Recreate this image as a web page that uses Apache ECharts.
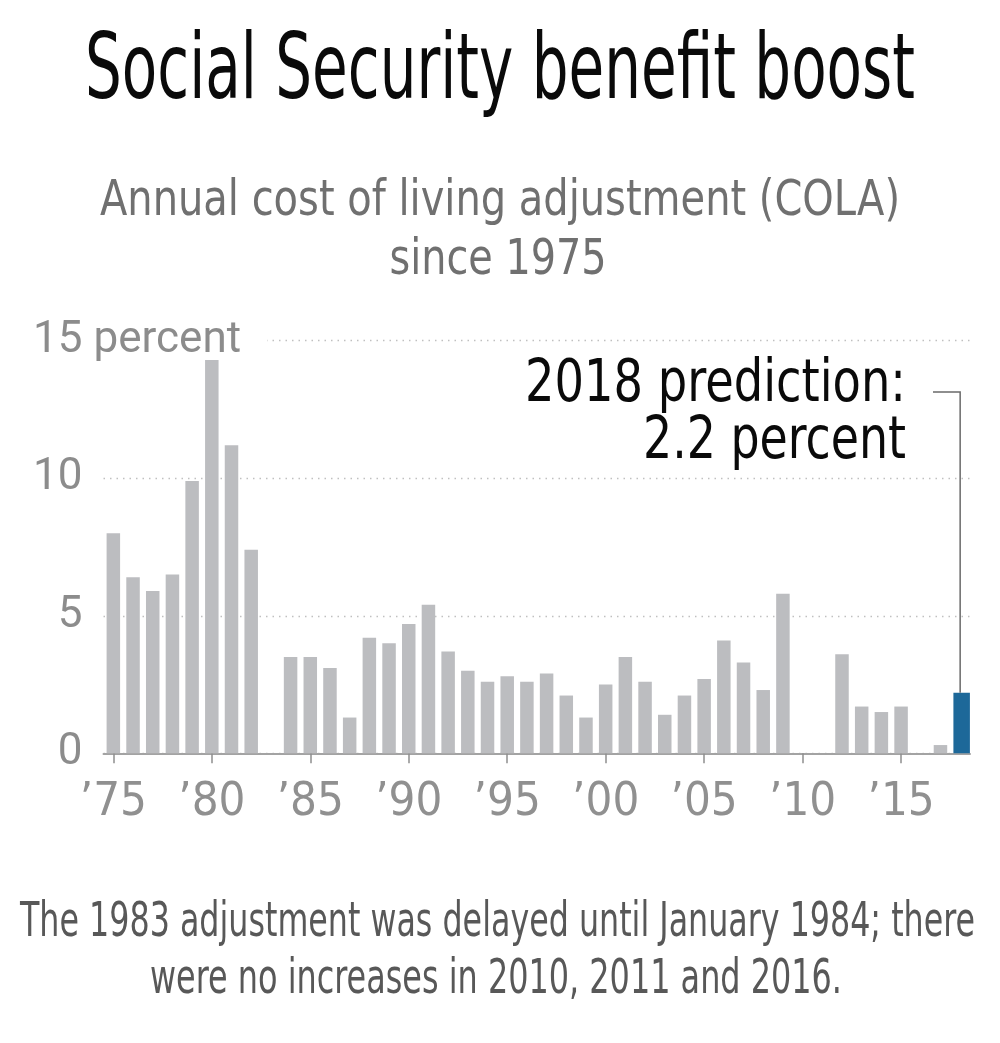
<!DOCTYPE html>
<html><head><meta charset="utf-8">
<script src="https://cdn.jsdelivr.net/npm/echarts@6/dist/echarts.min.js"></script>
<style>html,body{margin:0;padding:0;background:#fff}#c{width:1000px;height:1043px}</style>
</head><body><div id="c"></div>
<script>
// ---- data ----
const years = [];
for (let y = 1975; y <= 2018; y++) years.push(String(y));
const colaValues = [8.0,6.4,5.9,6.5,9.9,14.3,11.2,7.4,0,3.5,3.5,3.1,1.3,4.2,4.0,4.7,5.4,3.7,3.0,2.6,
  2.8,2.6,2.9,2.1,1.3,2.5,3.5,2.6,1.4,2.1,2.7,4.1,3.3,2.3,5.8,0,0,3.6,1.7,1.5,1.7,0,0.3,2.2];
const predictionYear = '2018';
const yTicks = [0, 5, 10, 15];
const labelEvery = 5;

const titleText = 'Social Security benefit boost';
const subtitleLines = ['Annual cost of living adjustment (COLA)', 'since 1975'];
const noteLines = ['The 1983 adjustment was delayed until January 1984; there', 'were no increases in 2010, 2011 and 2016.'];

// ---- derived series ----
const predIdx = years.indexOf(predictionYear);
const predValue = colaValues[predIdx];
const grayData = colaValues.map((v, i) => i === predIdx ? '-' : v);
const blueData = colaValues.map((v, i) => i === predIdx ? v : '-');
const annotLines = [predictionYear + ' prediction:', predValue + ' percent'];

const NARROW = '"Liberation Sans Narrow","DejaVu Sans Condensed","Roboto Condensed",sans-serif';
const measureCtx = document.createElement('canvas').getContext('2d');
function measure(text, size, family, weight) {
  measureCtx.font = (weight || 'normal') + ' ' + size + 'px ' + family;
  return measureCtx.measureText(text).width;
}
function fitText(text, opts) {
  const w = measure(text, opts.size, NARROW, opts.weight);
  return {
    type: 'text', x: opts.x, y: opts.y, scaleX: opts.width / w, z: 10,
    style: { text: text, fontSize: opts.size, fontFamily: NARROW, fontWeight: opts.weight || 'normal',
      fill: opts.color, align: opts.align, verticalAlign: 'middle' }
  };
}

const chart = echarts.init(document.getElementById('c'), null, { renderer: 'canvas' });
const gridLeft = 103.5, gridRight = 30, gridTop = 340.7, gridBottom = 289.7;

chart.setOption({
  backgroundColor: '#fff',
  animation: false,
  grid: { left: gridLeft, right: gridRight, top: gridTop, bottom: gridBottom, containLabel: false },
  xAxis: {
    type: 'category', data: years, boundaryGap: true,
    axisLine: { show: true, lineStyle: { color: '#a3a3a3', width: 2 } },
    axisTick: { show: true, alignWithLabel: true, length: 10, interval: (i) => i % labelEvery === 0,
      lineStyle: { color: '#8f8f8f', width: 1.5 } },
    axisLabel: { interval: (i) => i % labelEvery === 0, formatter: (v) => '\u2019' + v.slice(2),
      color: '#909090', fontSize: 47, fontFamily: NARROW, margin: 26 },
    splitLine: { show: false }
  },
  yAxis: [{
    type: 'value', min: yTicks[0], max: yTicks[yTicks.length - 1], interval: yTicks[1] - yTicks[0],
    axisLine: { show: false }, axisTick: { show: false },
    axisLabel: { color: '#8c8c8c', fontSize: 44, fontFamily: 'Roboto, sans-serif', fontWeight: 'normal', margin: 21, align: 'right' },
    splitLine: { show: true, lineStyle: { color: '#c0c0c0', type: [1.5, 5], width: 1.3 } }
  }, {
    type: 'value', position: 'left', min: yTicks[0], max: yTicks[yTicks.length - 1], interval: yTicks[1] - yTicks[0],
    axisLine: { show: false }, axisTick: { show: false }, splitLine: { show: false },
    axisLabel: { color: '#8c8c8c', fontSize: 44, fontFamily: 'Roboto, sans-serif', fontWeight: 'normal', margin: 10, align: 'left',
      formatter: (v) => v === yTicks[yTicks.length - 1] ? 'percent' : '',
      backgroundColor: '#fff', padding: [0, 26, 0, 0] }
  }],
  series: [{
    type: 'bar', data: blueData, barWidth: 16.5, barGap: '-100%',
    itemStyle: { color: '#1d6899' }, z: 3
  }, {
    type: 'bar', data: grayData, barWidth: 13.5,
    itemStyle: { color: '#bcbdc0' }, z: 2
  }]
});

const p = chart.convertToPixel({ xAxisIndex: 0, yAxisIndex: 0 }, [predictionYear, predValue]);
const leadY = 392, leadX0 = 933;

chart.setOption({
  graphic: [
    fitText(titleText, { x: 500, y: 75, size: 90, width: 830, color: '#0a0a0a', align: 'center' }),
    fitText(subtitleLines[0], { x: 500, y: 202, size: 50, width: 800, color: '#707070', align: 'center' }),
    fitText(subtitleLines[1], { x: 498, y: 261, size: 50, width: 217, color: '#707070', align: 'center' }),
    fitText(annotLines[0], { x: 906, y: 386, size: 58, width: 381, color: '#0a0a0a', align: 'right' }),
    fitText(annotLines[1], { x: 906, y: 443, size: 58, width: 263, color: '#0a0a0a', align: 'right' }),
    fitText(noteLines[0], { x: 497.5, y: 924, size: 48, width: 955, color: '#585858', align: 'center' }),
    fitText(noteLines[1], { x: 496, y: 981, size: 48, width: 692, color: '#585858', align: 'center' }),
    { type: 'polyline', z: 5, shape: { points: [[leadX0, leadY], [p[0], leadY], [p[0], p[1]]] },
      style: { stroke: '#6a6a6a', lineWidth: 1.5, fill: null } }
  ]
});
</script></body></html>
